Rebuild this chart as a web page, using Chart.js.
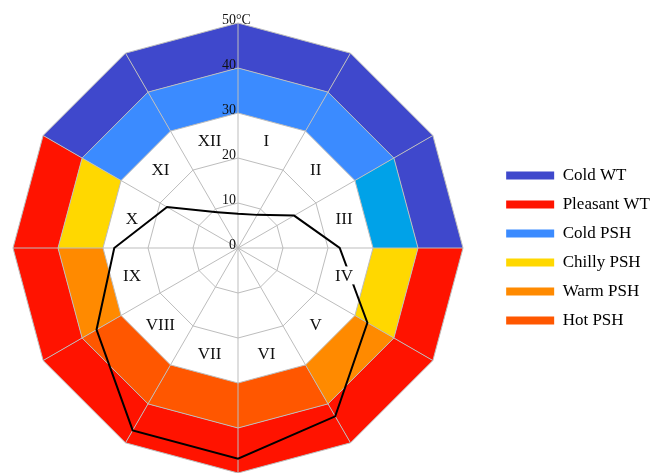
<!DOCTYPE html>
<html>
<head>
<meta charset="utf-8">
<script src="https://cdn.jsdelivr.net/npm/chart.js@4.4.0/dist/chart.umd.min.js"></script>
<style>
  html, body { margin: 0; padding: 0; background: #fff; }
  canvas { display: block; }
</style>
</head>
<body>
<canvas id="chart" width="654" height="473"></canvas>
<script>
// months, one per sector (sector i lies between spoke i and spoke i+1)
const months = ["I", "II", "III", "IV", "V", "VI", "VII", "VIII", "IX", "X", "XI", "XII"];
// black line, value at each spoke starting at the top, clockwise
const temperature = [7.6, 8.5, 14.4, 22.6, 33.2, 43.2, 46.8, 46.8, 36.3, 27.5, 18.2, 9.2];
// class of each month in the outer ring (40-50) and the inner ring (30-40)
const wtClass = ["Cold WT", "Cold WT", "Cold WT", "Pleasant WT", "Pleasant WT", "Pleasant WT",
                 "Pleasant WT", "Pleasant WT", "Pleasant WT", "Pleasant WT", "Cold WT", "Cold WT"];
const pshClass = ["Cold PSH", "Cold PSH", "Cool PSH", "Chilly PSH", "Warm PSH", "Hot PSH",
                  "Hot PSH", "Hot PSH", "Warm PSH", "Chilly PSH", "Cold PSH", "Cold PSH"];
const wtRing = [40, 50];
const pshRing = [30, 40];
const legendNames = ["Cold WT", "Pleasant WT", "Cold PSH", "Chilly PSH", "Warm PSH", "Hot PSH"];
const tickValues = [0, 10, 20, 30, 40, 50];
const unit = "°C";

const colors = {
    "Cold WT": "#3f48cc",
    "Pleasant WT": "#ff1300",
    "Cold PSH": "#3b8bff",
    "Cool PSH": "#00a2e8",
    "Chilly PSH": "#ffd800",
    "Warm PSH": "#ff8a00",
    "Hot PSH": "#ff5700"
};
const SERIF = '"Liberation Serif", "Times New Roman", serif';
const monthLabelAt = 24.4; // radial position of the month names, in scale units
const leftGap = 13;        // room left of the polygon

const ringsPlugin = {
    id: "rings",
    beforeDraw(chart) {
        const s = chart.scales.r, ctx = chart.ctx;
        ctx.save();
        ctx.fillStyle = "#fff";
        ctx.fillRect(0, 0, chart.width, chart.height);
        let quad = (i, lo, hi, color) => {
            let a = s.getPointPositionForValue(i, lo);
            let b = s.getPointPositionForValue(i + 1, lo);
            let c = s.getPointPositionForValue(i + 1, hi);
            let d = s.getPointPositionForValue(i, hi);
            ctx.beginPath();
            ctx.moveTo(a.x, a.y);
            ctx.lineTo(b.x, b.y);
            ctx.lineTo(c.x, c.y);
            ctx.lineTo(d.x, d.y);
            ctx.closePath();
            ctx.fillStyle = color;
            ctx.fill();
        };
        months.forEach((m, i) => {
            quad(i, wtRing[0], wtRing[1], colors[wtClass[i]]);
            quad(i, pshRing[0], pshRing[1], colors[pshClass[i]]);
        });
        ctx.restore();
    },
    afterDatasetsDraw(chart) {
        // month names sit on a white box, above the line
        const s = chart.scales.r, ctx = chart.ctx;
        ctx.save();
        ctx.font = "17px " + SERIF;
        ctx.textAlign = "center";
        ctx.textBaseline = "middle";
        months.forEach((m, i) => {
            let p = s.getPointPositionForValue(i + 0.5, monthLabelAt);
            let w = ctx.measureText(m).width;
            ctx.fillStyle = "#fff";
            ctx.fillRect(p.x - w / 2 - 1, p.y - 10, w + 2, 18);
            ctx.fillStyle = "#111";
            ctx.fillText(m, p.x, p.y);
        });
        ctx.restore();
    },
    afterDraw(chart) {
        // value labels along the top spoke
        const s = chart.scales.r, ctx = chart.ctx;
        ctx.save();
        ctx.font = "14px " + SERIF;
        ctx.fillStyle = "#111";
        ctx.textBaseline = "middle";
        s.ticks.forEach((t, k) => {
            let y = s.yCenter - s.getDistanceFromCenterForValue(t.value) - 3;
            ctx.textAlign = "right";
            ctx.fillText(String(t.value), s.xCenter - 2, y);
            if (k === s.ticks.length - 1) {
                ctx.textAlign = "left";
                ctx.fillText(unit, s.xCenter - 2, y);
            }
        });
        ctx.restore();
    }
};

new Chart(document.getElementById("chart").getContext("2d"), {
    type: "radar",
    data: {
        labels: months,
        datasets: [{
            label: "Temperature",
            data: temperature,
            borderColor: "#000",
            borderWidth: 2,
            pointRadius: 0,
            fill: false,
            tension: 0
        }]
    },
    options: {
        responsive: false,
        animation: false,
        devicePixelRatio: 1,
        layout: { padding: { top: 23, bottom: 0, left: 0, right: -6 } },
        scales: {
            r: {
                min: 0,
                max: 50,
                ticks: { display: false, stepSize: 10 },
                afterBuildTicks: s => { s.ticks = tickValues.map(v => ({ value: v })); },
                // keep the polygon on the left instead of centred in the area
                afterFit: s => { s.xCenter = s.left + s.drawingArea + leftGap; },
                grid: { color: "#bdbdbd", lineWidth: 1 },
                angleLines: { color: "#bdbdbd", lineWidth: 1 },
                pointLabels: { display: false }
            }
        },
        plugins: {
            tooltip: { enabled: false },
            legend: {
                position: "right",
                onClick: null,
                labels: {
                    boxWidth: 48,
                    boxHeight: 8,
                    padding: 12,
                    color: "#111",
                    font: { family: SERIF, size: 17 },
                    generateLabels: () => legendNames.map(n => ({
                        text: n,
                        fillStyle: colors[n],
                        strokeStyle: colors[n],
                        lineWidth: 0,
                        hidden: false
                    }))
                }
            }
        }
    },
    plugins: [ringsPlugin]
});
</script>
</body>
</html>
